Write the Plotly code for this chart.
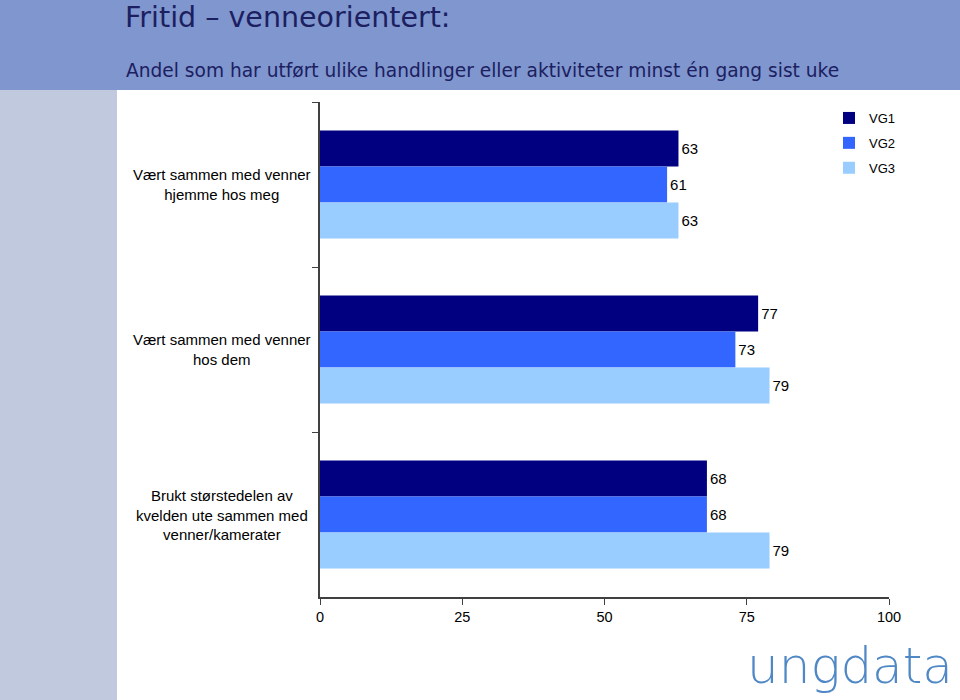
import plotly.graph_objects as go

categories = [
    "Vært sammen med venner<br>hjemme hos meg",
    "Vært sammen med venner<br>hos dem",
    "Brukt størstedelen av<br>kvelden ute sammen med<br>venner/kamerater",
]
cat_keys = ["c1", "c2", "c3"]
series_names = ["VG1", "VG2", "VG3"]
vg1 = [63, 77, 68]
vg2 = [61, 73, 68]
vg3 = [63, 79, 79]
colors = ["#000080", "#3366ff", "#99ccff"]
x_ticks = [0, 25, 50, 75, 100]

L, R, T, B = 320, 71, 102, 103
W, H = 960, 700
pw, ph = W - L - R, H - T - B

def px(x):
    return (x - L) / pw

def py(y):
    return (H - B - y) / ph

fig = go.Figure()
for name, vals, col in zip(series_names, [vg1, vg2, vg3], colors):
    fig.add_trace(go.Bar(
        y=cat_keys, x=vals, name=name, orientation="h", legendgroup=name,
        marker=dict(color=col, line=dict(width=0)),
        text=[str(v) for v in vals], textposition="outside",
        textfont=dict(family="Liberation Sans, Arial", size=15, color="#000000"),
        cliponaxis=False,
    ))

shapes = [
    dict(type="rect", xref="paper", yref="paper", x0=px(0), x1=px(W), y0=py(90), y1=py(0),
         fillcolor="#7f96cf", line=dict(width=0), layer="below"),
    dict(type="rect", xref="paper", yref="paper", x0=px(0), x1=px(117), y0=py(H), y1=py(90),
         fillcolor="#c0c9dd", line=dict(width=0), layer="below"),
]

annotations = [
    dict(text="Fritid – venneorientert:", xref="paper", yref="paper", x=px(123), y=py(17),
         xanchor="left", yanchor="middle", showarrow=False,
         font=dict(family="DejaVu Sans", size=28.5, color="#1c2060")),
    dict(text="Andel som har utført ulike handlinger eller aktiviteter minst én gang sist uke",
         xref="paper", yref="paper", x=px(124), y=py(70), xanchor="left", yanchor="middle",
         showarrow=False, font=dict(family="DejaVu Sans", size=18.6, color="#1c2060")),
    dict(text="ungdata", xref="paper", yref="paper", x=px(850), y=py(666), xanchor="center",
         yanchor="middle", showarrow=False,
         font=dict(family="DejaVu Sans", size=50, color="#5088c6", weight=200)),
]
for i, c in enumerate(categories):
    annotations.append(dict(
        text=c, xref="paper", yref="y", x=px(222), y=cat_keys[i], xanchor="center",
        yanchor="middle", align="center", showarrow=False,
        font=dict(family="Liberation Sans, Arial", size=15, color="#000000")))

fig.update_layout(
    width=W, height=H, margin=dict(l=L, r=R, t=T, b=B),
    paper_bgcolor="#ffffff", plot_bgcolor="#ffffff",
    barmode="group", bargap=0.345, bargroupgap=0,
    shapes=shapes, annotations=annotations,
    legend=dict(x=px(829), y=py(103), xanchor="left", yanchor="top",
                font=dict(family="Liberation Sans, Arial", size=13, color="#000000"),
                itemwidth=30, tracegroupgap=5, bgcolor="rgba(0,0,0,0)", traceorder="grouped"),
    showlegend=True,
)
fig.update_xaxes(range=[0, 100], tickvals=x_ticks, ticks="outside", ticklen=6,
                 tickcolor="#404040", showline=True, linecolor="#404040", linewidth=1.5,
                 showgrid=False, zeroline=False,
                 tickfont=dict(family="Liberation Sans, Arial", size=14.5, color="#000000"))
fig.update_yaxes(categoryorder="array", categoryarray=cat_keys, autorange="reversed",
                 showticklabels=False, ticks="outside", ticklen=6, tickson="boundaries",
                 tickcolor="#404040", showline=True, linecolor="#404040", linewidth=1.5,
                 showgrid=False, zeroline=False)

fig.write_html("out.html", config={"displayModeBar": False},
               post_script="document.body.style.margin='0';")
